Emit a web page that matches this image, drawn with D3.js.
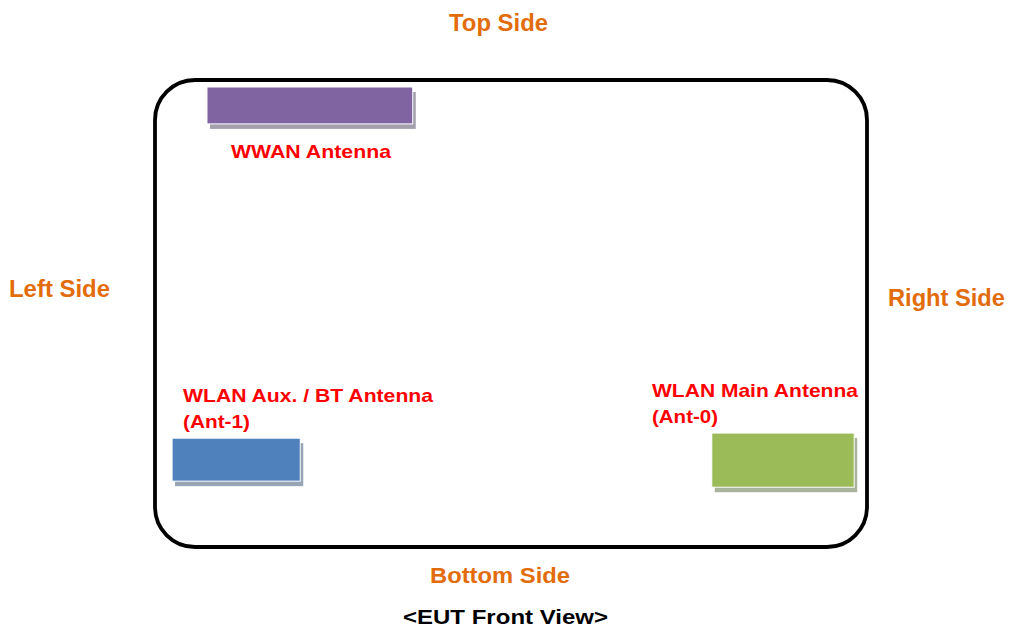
<!DOCTYPE html>
<html>
<head>
<meta charset="utf-8">
<script src="https://cdn.jsdelivr.net/npm/d3@7"></script>
<style>
  html, body { margin: 0; padding: 0; background: #fff; }
  svg { display: block; font-family: "Liberation Sans", Arial, sans-serif; font-weight: bold; }
</style>
</head>
<body>
<div id="chart"></div>
<script>
// side labels around the EUT outline
const sideNames = ["Top Side", "Left Side", "Right Side", "Bottom Side"];
const caption = "<EUT Front View>";

// antennas, positions in % of the EUT outline (x from left, y from top)
const antennaNames = ["WWAN", "WLAN Aux.", "WLAN Main"];
const antennaLabels = [["WWAN Antenna"], ["WLAN Aux. / BT Antenna", "(Ant-1)"], ["WLAN Main Antenna", "(Ant-0)"]];
const antennaX0 = [7.3, 2.4, 78.2];
const antennaX1 = [36.2, 20.4, 98.2];
const antennaY0 = [1.5, 76.7, 75.6];
const antennaY1 = [9.4, 85.9, 87.2];

const width = 1011, height = 630;
const box = { left: 155, right: 867, top: 80, bottom: 547 };

const svg = d3.select("#chart").append("svg")
  .attr("width", width)
  .attr("height", height);

const x = d3.scaleLinear().domain([0, 100]).range([box.left, box.right]);
const y = d3.scaleLinear().domain([0, 100]).range([box.top, box.bottom]);

const fills = d3.scaleOrdinal().domain(antennaNames).range(["#8064A2", "#4F81BD", "#9BBB59"]);
const shadows = d3.scaleOrdinal().domain(antennaNames).range(["#A39FAD", "#96A4B4", "#A9B29B"]);

// EUT outline
svg.append("rect")
  .attr("x", x(0)).attr("y", y(0))
  .attr("width", x(100) - x(0)).attr("height", y(100) - y(0))
  .attr("rx", 40).attr("ry", 40)
  .attr("fill", "none")
  .attr("stroke", "#000")
  .attr("stroke-width", 3.8);

const ants = antennaNames.map((n, i) => ({
  name: n, lines: antennaLabels[i],
  x0: antennaX0[i], x1: antennaX1[i], y0: antennaY0[i], y1: antennaY1[i]
}));

// shadows then blocks
svg.selectAll(".shadow").data(ants).join("rect")
  .attr("class", "shadow")
  .attr("x", d => x(d.x0) + 3).attr("y", d => y(d.y0) + 5)
  .attr("width", d => x(d.x1) - x(d.x0)).attr("height", d => y(d.y1) - y(d.y0))
  .attr("fill", d => shadows(d.name));

svg.selectAll(".ant").data(ants).join("rect")
  .attr("class", "ant")
  .attr("x", d => x(d.x0)).attr("y", d => y(d.y0))
  .attr("width", d => x(d.x1) - x(d.x0)).attr("height", d => y(d.y1) - y(d.y0))
  .attr("fill", d => fills(d.name))
  .attr("stroke", "#fff").attr("stroke-width", 1);

// text helper: baseline position, stretched to match the reference widths
function label(txt, px, py, size, len, color) {
  svg.append("text")
    .attr("x", px).attr("y", py)
    .attr("font-size", size)
    .attr("fill", color)
    .attr("textLength", len)
    .attr("lengthAdjust", "spacingAndGlyphs")
    .text(txt);
}

const orange = "#E36C0A", red = "#FF0000";
label(sideNames[0], 449, 31, 23, 99, orange);
label(sideNames[1], 9, 297, 23, 101, orange);
label(sideNames[2], 888, 306, 23, 117, orange);
label(sideNames[3], 430, 583, 22, 140, orange);
label(caption, 403, 624, 20, 205, "#000");

// antenna labels
label(antennaLabels[0][0], 231, 158, 19, 160, red);
label(antennaLabels[1][0], 183, 402, 19, 250, red);
label(antennaLabels[1][1], 183, 428, 19, 67, red);
label(antennaLabels[2][0], 652, 397, 19, 206, red);
label(antennaLabels[2][1], 652, 423, 19, 66, red);
</script>
</body>
</html>
